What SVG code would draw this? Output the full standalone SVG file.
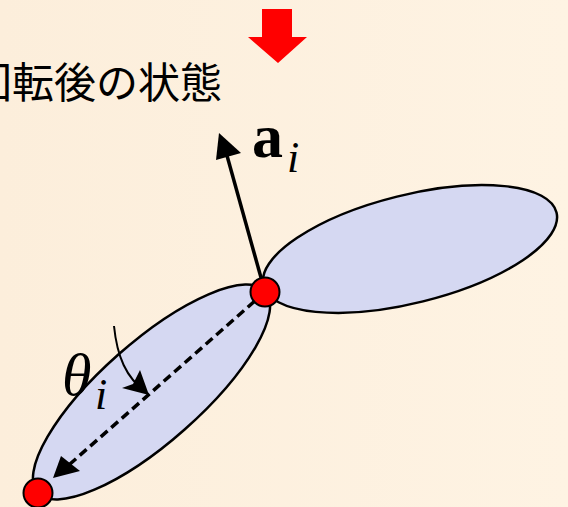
<svg xmlns="http://www.w3.org/2000/svg" width="568" height="507" viewBox="0 0 568 507">
<defs>
<linearGradient id="bg" x1="0" y1="0" x2="1" y2="0">
<stop offset="0" stop-color="#FCEEDB"/>
<stop offset="1" stop-color="#FEF3E3"/>
</linearGradient>
</defs>
<style>
.link{fill:#D5D8F2;stroke:#000;stroke-width:2.5}
.joint{fill:#FF0000;stroke:#000;stroke-width:2}
.lbl{font-family:"Noto Sans CJK JP","Noto Sans",sans-serif;font-size:42px;fill:#000}
.math{font-family:"Liberation Serif",serif;fill:#000}
</style>
<rect width="568" height="507" fill="url(#bg)"/>
<g id="down-arrow">
<path d="M262,9 L292,9 L292,37 L307,37 L278,63 L248,37 L262,37 Z" fill="#FF0000"/>
</g>
<g id="title">
<text class="lbl" x="222" y="98" text-anchor="end">回転後の状態</text>
</g>
<g id="link-right">
<ellipse class="link" cx="410" cy="249" rx="151" ry="54" transform="rotate(-14 410 249)"/>
</g>
<g id="link-left">
<ellipse class="link" cx="151.5" cy="392" rx="152" ry="50" transform="rotate(-41.5 151.5 392)"/>
</g>
<g id="connectors">
<line x1="265" y1="292" x2="70" y2="464" stroke="#000" stroke-width="3.5" stroke-dasharray="9,5"/>
<path d="M53,478 L61,456 L80,471 Z" fill="#000"/>
<line x1="265" y1="292" x2="226" y2="152" stroke="#000" stroke-width="3.5"/>
<path d="M219,133 L241,153 L216,160 Z" fill="#000"/>
<path d="M114,326 C117,356 126,378 146,392" fill="none" stroke="#000" stroke-width="2"/>
<path d="M149,395 L122,388 L133,384 L140,370 Z" fill="#000"/>
</g>
<g id="joint-top">
<circle class="joint" cx="265" cy="292" r="14.5"/>
</g>
<g id="joint-bottom">
<circle class="joint" cx="38" cy="493" r="14.5"/>
</g>
<g id="label-a">
<text class="math" x="252" y="157" font-size="62" font-weight="bold">a</text>
<text class="math" x="287" y="172" font-size="44" font-style="italic">i</text>
</g>
<g id="label-theta">
<text class="math" x="62" y="395" font-size="60" font-style="italic">θ</text>
<text class="math" x="95" y="409" font-size="44" font-style="italic">i</text>
</g>
</svg>
